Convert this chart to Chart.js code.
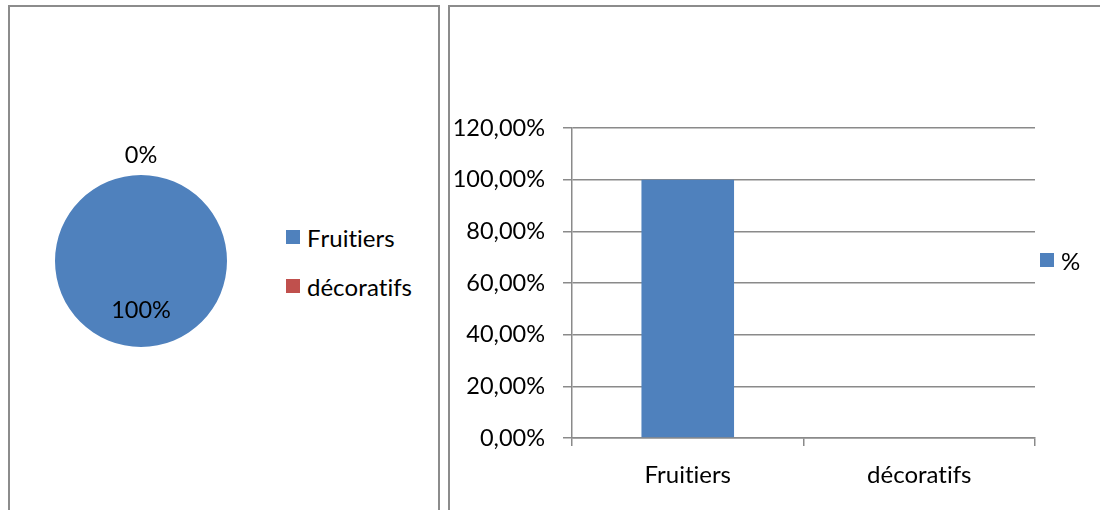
<!DOCTYPE html>
<html lang="fr">
<head>
<meta charset="utf-8">
<title>Fruitiers / décoratifs</title>
<script src="https://cdn.jsdelivr.net/npm/chart.js@4.4.1/dist/chart.umd.min.js"></script>
<style>
  html, body { margin: 0; padding: 0; background: #fff; overflow: hidden; }
  body { width: 1100px; height: 510px; position: relative; font-family: Lato, sans-serif; font-variant-ligatures: none; font-kerning: none; }
  .panel { position: absolute; top: 5px; height: 600px; border: 2px solid #8c8c8c; box-sizing: border-box; }
  #left-panel { left: 8px; width: 432px; }
  #right-panel { left: 448px; width: 700px; }
  canvas { position: absolute; top: 0; }
  #pie { left: 0; }
  #bar { left: 448px; }
  .legend { position: absolute; margin: 0; padding: 0; list-style: none; font-size: 24px; color: #000; }
  .legend li { display: flex; align-items: center; height: 28px; margin-bottom: 21px; white-space: nowrap; }
  .legend .swatch { width: 14px; height: 14px; margin-right: 7px; flex: none; }
  #pie-legend { left: 286px; top: 223px; }
  #bar-legend { left: 1040px; top: 246px; }
</style>
</head>
<body>
<div class="panel" id="left-panel"></div>
<div class="panel" id="right-panel"></div>
<canvas id="pie" width="280" height="510"></canvas>
<canvas id="bar" width="652" height="510"></canvas>
<ul class="legend" id="pie-legend"></ul>
<ul class="legend" id="bar-legend"></ul>
<script>
const categories = ['Fruitiers', 'décoratifs'];
const pieShares = [100, 0];          // percent of trees
const barShares = [1.0, 0.0];        // same shares as fractions
const barSeriesName = '%';
const yMax = 1.2;
const yStep = 0.2;

const blue = '#4F81BD';
const red = '#C0504D';
const axisGray = '#8a8a8a';

Chart.defaults.font.family = 'Lato, sans-serif';
Chart.defaults.font.size = 24;
Chart.defaults.color = '#000';

// no "ti" ligature or kerning in canvas text
const plainText = {
  id: 'plainText',
  beforeDraw(chart) {
    chart.ctx.textRendering = 'optimizeSpeed';
  }
};

// builds the <ul> legends from the chart's own legend items
const htmlLegend = {
  id: 'htmlLegend',
  afterUpdate(chart, args, options) {
    const list = document.getElementById(options.containerID);
    list.innerHTML = '';
    const items = chart.options.plugins.legend.labels.generateLabels(chart);
    items.forEach(item => {
      const li = document.createElement('li');
      const box = document.createElement('span');
      box.className = 'swatch';
      box.style.background = item.fillStyle;
      const text = document.createElement('span');
      text.textContent = item.text;
      li.append(box, text);
      list.appendChild(li);
    });
  }
};

// percent labels on the pie: inside for real slices, outside for empty ones
const pieLabels = {
  id: 'pieLabels',
  afterDatasetsDraw(chart) {
    const ctx = chart.ctx;
    const values = chart.data.datasets[0].data;
    const total = values.reduce((a, b) => a + b, 0);
    const meta = chart.getDatasetMeta(0);
    ctx.save();
    ctx.font = '23.5px Lato, sans-serif';
    ctx.fillStyle = '#000';
    ctx.textAlign = 'center';
    ctx.textBaseline = 'middle';
    meta.data.forEach((arc, i) => {
      const p = arc.getProps(['x', 'y', 'startAngle', 'endAngle', 'outerRadius'], true);
      const mid = (p.startAngle + p.endAngle) / 2;
      const share = values[i] / total;
      const r = share === 0 ? p.outerRadius + 20 : p.outerRadius * 0.58;
      ctx.fillText(Math.round(share * 100) + '%', p.x + Math.cos(mid) * r, p.y + Math.sin(mid) * r);
    });
    ctx.restore();
  }
};

new Chart(document.getElementById('pie'), {
  type: 'pie',
  data: {
    labels: categories,
    datasets: [{
      data: pieShares,
      backgroundColor: [blue, red],
      borderWidth: 0
    }]
  },
  options: {
    responsive: false,
    animation: false,
    radius: 86,
    layout: { padding: { left: 41, right: 39, top: 161, bottom: 149 } },
    plugins: {
      legend: { display: false },
      tooltip: { enabled: false },
      htmlLegend: { containerID: 'pie-legend' }
    }
  },
  plugins: [plainText, htmlLegend, pieLabels]
});

new Chart(document.getElementById('bar'), {
  type: 'bar',
  data: {
    labels: categories,
    datasets: [{
      label: barSeriesName,
      data: barShares,
      backgroundColor: blue,
      categoryPercentage: 1,
      barPercentage: 0.4
    }]
  },
  options: {
    responsive: false,
    animation: false,
    layout: { padding: { top: 128, right: 65, left: 0, bottom: 0 } },
    scales: {
      x: {
        grid: { offset: true, drawOnChartArea: false, color: axisGray, lineWidth: 1.5, tickLength: 8 },
        border: { color: axisGray, width: 1.5 },
        ticks: { padding: 15 },
        afterFit: scale => { scale.height = 72; }
      },
      y: {
        min: 0,
        max: yMax,
        grid: { color: axisGray, lineWidth: 1.5, tickLength: 9 },
        border: { color: axisGray, width: 1.5 },
        ticks: {
          stepSize: yStep,
          padding: 18,
          font: { size: 23.5 },
          callback: v => (v * 100).toFixed(2).replace('.', ',') + '%'
        },
        afterFit: scale => { scale.width = 124; }
      }
    },
    plugins: {
      legend: { display: false },
      tooltip: { enabled: false },
      htmlLegend: { containerID: 'bar-legend' }
    }
  },
  plugins: [plainText, htmlLegend]
});
</script>
</body>
</html>
